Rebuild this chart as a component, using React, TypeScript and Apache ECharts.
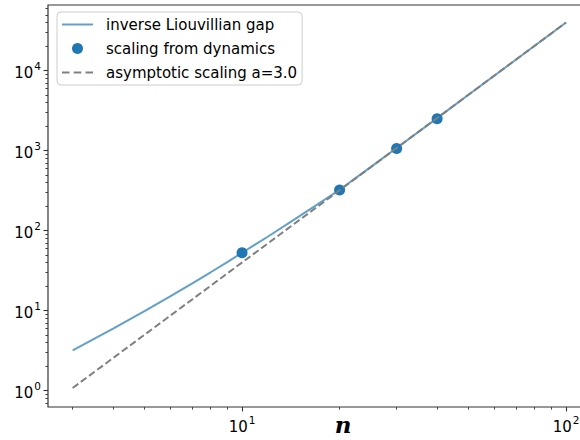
import { useEffect, useRef } from "react";
import * as echarts from "echarts";

// inverse Liouvillian gap versus system size n
const nGap = [3, 4, 5, 6, 7, 8, 9, 10, 12, 15, 17, 20, 25, 30, 40, 50, 60, 70, 80, 90, 100];
const invGap = [3.2, 5.95, 9.84, 15.05, 21.8, 30.2, 40.5, 53, 84, 151, 210, 325, 628, 1080, 2550, 5000, 8640, 13700, 20500, 29200, 40000];

// relaxation times extracted from the dynamics
const nDyn = [10, 20, 30, 40];
const tauDyn = [53, 322, 1065, 2500];

// asymptotic power law, exponent a = 3.0
const nAsym = [3, 100];
const tauAsym = [1.08, 40000];

// axis limits and tick positions
const xLim = [2.518, 119.4];
const yLim = [0.625, 66200];
const xMajor = [10, 100];
const yMajor = [1, 10, 100, 1000, 10000];
const xMinor = [3, 4, 5, 6, 7, 8, 9, 20, 30, 40, 50, 60, 70, 80, 90];
const yMinor: number[] = [];
for (let d = -1; d <= 4; d++) {
  for (let k = 2; k <= 9; k++) {
    const v = k * Math.pow(10, d);
    if (v > yLim[0] && v < yLim[1]) yMinor.push(v);
  }
}

const FONT = "DejaVu Sans";
const SPINE = "#333333";

// legend glyphs: a solid stroke and a three-dash stroke, 31 units wide
const SOLID_ICON = "path://M0,0L31,0L31,2L0,2Z";
const DASH_ICON = "path://M0,0L7.5,0L7.5,2L0,2Z M11.75,0L19.25,0L19.25,2L11.75,2Z M23.5,0L31,0L31,2L23.5,2Z";

const powLabel = (v: number) => `{b|10}{s|${Math.round(Math.log10(v))}}`;
const rich = {
  b: { fontFamily: FONT, fontSize: 15, color: "#000", lineHeight: 20, verticalAlign: "bottom" },
  s: { fontFamily: FONT, fontSize: 10.5, color: "#000", lineHeight: 20, verticalAlign: "top", padding: [0, 0, 0, 1] },
};

export default function App() {
  const ref = useRef<HTMLDivElement>(null);

  useEffect(() => {
    document.body.style.margin = "0";
    if (!ref.current) return;
    const chart = echarts.init(ref.current, null, { renderer: "svg" });

    const majorTick = (vals: number[]) => ({
      show: true,
      customValues: vals,
      length: 4.5,
      lineStyle: { color: SPINE, width: 1.1 },
    });
    const minorTick = (vals: number[]) => ({
      show: true,
      customValues: vals,
      length: 2.6,
      lineStyle: { color: SPINE, width: 0.9 },
    });

    chart.setOption({
      animation: false,
      textStyle: { fontFamily: FONT },
      grid: {
        left: 48,
        top: 5,
        width: 543,
        height: 402,
        show: true,
        borderColor: SPINE,
        borderWidth: 1.2,
      },
      xAxis: [
        {
          type: "log",
          logBase: 10,
          min: xLim[0],
          max: xLim[1],
          position: "bottom",
          axisLine: { show: false },
          splitLine: { show: false },
          axisTick: majorTick(xMajor),
          axisLabel: { customValues: xMajor, formatter: powLabel, rich, margin: 7 },
        },
        {
          type: "log",
          logBase: 10,
          min: xLim[0],
          max: xLim[1],
          position: "bottom",
          axisLine: { show: false },
          splitLine: { show: false },
          axisTick: minorTick(xMinor),
          axisLabel: { show: false },
        },
      ],
      yAxis: [
        {
          type: "log",
          logBase: 10,
          min: yLim[0],
          max: yLim[1],
          position: "left",
          axisLine: { show: false },
          splitLine: { show: false },
          axisTick: majorTick(yMajor),
          axisLabel: { customValues: yMajor, formatter: powLabel, rich, margin: 7 },
        },
        {
          type: "log",
          logBase: 10,
          min: yLim[0],
          max: yLim[1],
          position: "left",
          axisLine: { show: false },
          splitLine: { show: false },
          axisTick: minorTick(yMinor),
          axisLabel: { show: false },
        },
      ],
      legend: {
        orient: "vertical",
        left: 57,
        top: 12,
        padding: [5, 5, 5, 5],
        itemWidth: 31,
        itemHeight: 11,
        itemGap: 9,
        symbolKeepAspect: true,
        backgroundColor: "rgba(255,255,255,0.8)",
        borderColor: "#cccccc",
        borderWidth: 1,
        borderRadius: 4,
        textStyle: { fontFamily: FONT, fontSize: 15, color: "#000", lineHeight: 14, padding: [0, 0, 0, 8] },
        data: [
          { name: "inverse Liouvillian gap", icon: SOLID_ICON },
          { name: "scaling from dynamics", icon: "circle" },
          { name: "asymptotic scaling a=3.0", icon: DASH_ICON },
        ],
      },
      graphic: [
        {
          type: "text",
          x: 343,
          y: 424,
          style: {
            text: "n",
            fontFamily: "DejaVu Serif",
            fontStyle: "italic",
            fontWeight: "bold",
            fontSize: 23,
            fill: "#000",
            align: "center",
            verticalAlign: "middle",
          },
        },
      ],
      series: [
        {
          name: "scaling from dynamics",
          type: "scatter",
          xAxisIndex: 0,
          yAxisIndex: 0,
          data: nDyn.map((n, i) => [n, tauDyn[i]]),
          symbol: "circle",
          symbolSize: 11,
          itemStyle: { color: "#1f77b4", opacity: 1 },
          z: 2,
        },
        {
          name: "inverse Liouvillian gap",
          type: "line",
          xAxisIndex: 0,
          yAxisIndex: 0,
          data: nGap.map((n, i) => [n, invGap[i]]),
          symbol: "none",
          lineStyle: { color: "rgba(31,119,180,0.7)", width: 2 },
          itemStyle: { color: "rgba(31,119,180,0.7)" },
          z: 3,
        },
        {
          name: "asymptotic scaling a=3.0",
          type: "line",
          xAxisIndex: 0,
          yAxisIndex: 0,
          data: nAsym.map((n, i) => [n, tauAsym[i]]),
          symbol: "none",
          lineStyle: { color: "#808080", width: 2, type: [7, 3.2] },
          itemStyle: { color: "#808080" },
          z: 4,
        },
      ],
    });

    return () => chart.dispose();
  }, []);

  // the plot frame runs past the right edge of the 580px view and is clipped there
  return (
    <div style={{ width: 580, height: 440, overflow: "hidden" }}>
      <div ref={ref} style={{ width: 600, height: 440 }} />
    </div>
  );
}
